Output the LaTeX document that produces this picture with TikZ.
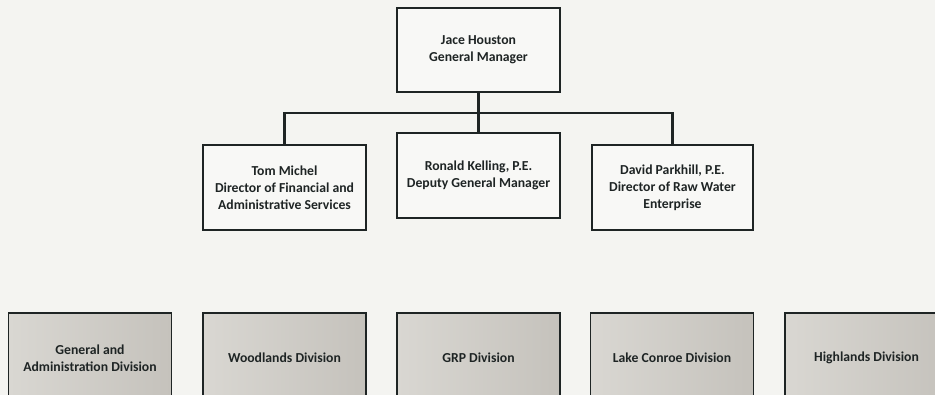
\documentclass[tikz,border=0pt]{standalone}
\usepackage{fontspec}
\setmainfont{Carlito}
\usetikzlibrary{positioning}

\definecolor{paper}{HTML}{F4F4F1}
\definecolor{boxwhite}{HTML}{F8F8F6}
\definecolor{ink}{HTML}{1E2424}
\definecolor{divlight}{HTML}{D9D7D2}
\definecolor{divdark}{HTML}{C5C2BC}

\tikzset{
	person/.style={draw=ink, line width=1.3pt, fill=boxwhite, text=ink,
		minimum width=163pt, minimum height=85pt, align=center, inner sep=0pt,
		font=\fontsize{13.7}{17}\selectfont\bfseries},
	division/.style={person, minimum height=90pt, fill=none,
		left color=divlight, right color=divdark},
	link/.style={draw=ink, line width=2.4pt}
}

\begin{document}
\begin{tikzpicture}[x=1pt, y=-1pt]
		%%%%% START %%%%%
		
		\fill[paper] (0, 0) rectangle (935, 395);
		\useasboundingbox (0, 0) rectangle (935, 395);
		\clip (0, 0) rectangle (935, 395);
		
		% general manager
		\node[person, minimum height=84pt] (gm) at (478.5, 50) {Jace Houston\\General Manager};
		
		% directors
		\node[person] (fin) at (284.5, 187.5) {Tom Michel\\Director of Financial and\\Administrative Services};
		\node[person] (dep) at (478.5, 175.5) {Ronald Kelling, P.E.\\Deputy General Manager};
		\node[person, minimum width=161pt] (raw) at (672.5, 187.5) {David Parkhill, P.E.\\Director of Raw Water\\Enterprise};
		
		% divisions
		\node[division] (gad) at (90, 358) {General and\\Administration Division};
		\node[division] (wood) at (284.5, 358) {Woodlands Division};
		\node[division] (grp) at (478.5, 358) {GRP Division};
		\node[division] (lake) at (672, 358) {Lake Conroe Division};
		\node[division] (high) at (866.5, 358) {Highlands Division};
		
		\coordinate (bar) at (478.5, 113);
		\draw[link] (gm.south) -- (dep.north);
		\draw[link] (fin.north) -- (fin.north |- bar) -- (raw.north |- bar) -- (raw.north);
		
		%%%%% END %%%%%
\end{tikzpicture}
\end{document}
